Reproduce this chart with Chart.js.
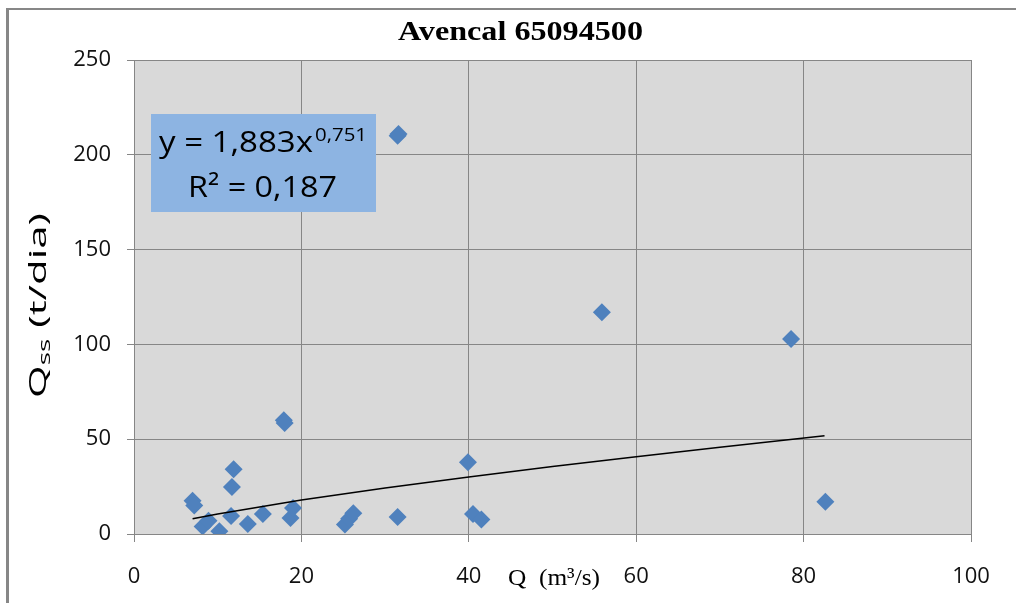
<!DOCTYPE html>
<html>
<head>
<meta charset="utf-8">
<script src="https://cdn.jsdelivr.net/npm/chart.js@4/dist/chart.umd.min.js"></script>
<style>
  html, body { margin: 0; padding: 0; background: #fff; }
  canvas { display: block; }
</style>
</head>
<body>
<canvas id="grafico" width="1016" height="603"></canvas>
<script>
// Dados (Q em m3/s, Qss em t/dia)
const vazao = [7.0, 7.2, 8.2, 8.9, 10.2, 11.6, 11.7, 11.9, 13.6, 15.4, 17.9, 18.0, 18.7, 19.0,
               25.2, 25.7, 26.2, 31.5, 31.5, 31.6, 39.9, 40.5, 41.5, 55.9, 78.5, 82.6];
const qss   = [17.5, 15.0, 4.0, 7.0, 1.5, 9.5, 24.8, 34.2, 5.3, 10.5, 60.0, 58.5, 8.5, 13.7,
               5.0, 8.0, 11.0, 9.0, 210.0, 211.0, 37.8, 10.5, 7.7, 117.0, 102.8, 17.0];

// linha de tendência (potência)
const trendX = [7, 10, 20, 30, 40, 50, 60, 70, 82.5];
const trendY = [8.1, 10.6, 17.9, 24.2, 30.1, 35.6, 40.8, 45.8, 51.8];

const xTicks = [0, 20, 40, 60, 80, 100];
const yTicks = [0, 50, 100, 150, 200, 250];

const titulo = 'Avencal 65094500';
const eqLinha1 = 'y = 1,883x';
const eqExpoente = '0,751';
const eqLinha2 = 'R² = 0,187';

const sans = "'Open Sans', 'DejaVu Sans', sans-serif";
const serif = "'Liberation Serif', 'DejaVu Serif', serif";

// texto esticado na horizontal até a largura w
function textoLargura(ctx, txt, x, y, w){
    const m = ctx.measureText(txt).width;
    ctx.save();
    ctx.translate(x, y);
    ctx.scale(w / m, 1);
    ctx.fillText(txt, 0, 0);
    ctx.restore();
}

const desenhoExtra = {
    id: 'desenhoExtra',
    beforeDraw(chart){
        const ctx = chart.ctx, a = chart.chartArea;
        ctx.save();
        // moldura externa
        ctx.strokeStyle = '#878787';
        ctx.lineWidth = 3;
        ctx.beginPath(); ctx.moveTo(7.5, 603); ctx.lineTo(7.5, 9); ctx.stroke();
        ctx.lineWidth = 2;
        ctx.beginPath(); ctx.moveTo(6, 9); ctx.lineTo(1016, 9); ctx.stroke();
        // fundo da área de plotagem
        ctx.fillStyle = '#d9d9d9';
        ctx.fillRect(a.left, a.top, a.right - a.left, a.bottom - a.top);
        ctx.restore();
    },
    afterDraw(chart){
        const ctx = chart.ctx;
        ctx.save();
        ctx.fillStyle = '#000';
        ctx.textAlign = 'left';
        ctx.textBaseline = 'alphabetic';

        // título
        ctx.font = 'bold 28px ' + serif;
        textoLargura(ctx, titulo, 398, 40, 245);

        // caixa da equação
        ctx.fillStyle = '#8db4e2';
        ctx.fillRect(151, 114, 225, 98);
        ctx.fillStyle = '#000';
        ctx.font = '30px ' + sans;
        textoLargura(ctx, eqLinha1, 159, 152, 154);
        ctx.font = '19px ' + sans;
        textoLargura(ctx, eqExpoente, 315, 141, 52);
        ctx.font = '30px ' + sans;
        textoLargura(ctx, eqLinha2, 188, 197, 149);

        // título do eixo x
        ctx.font = '24px ' + serif;
        textoLargura(ctx, 'Q  (m³/s)', 508, 585, 92);

        // título do eixo y: Q com subscrito ss
        ctx.translate(46, 398);
        ctx.rotate(-Math.PI / 2);
        const fGrande = '24px ' + sans, fSub = '16px ' + sans;
        ctx.font = fGrande; const wQ = ctx.measureText('Q').width;
        ctx.font = fSub; const wS = ctx.measureText('ss').width;
        ctx.font = fGrande; const wR = ctx.measureText(' (t/dia)').width;
        const k = 185 / (wQ + wS + wR);
        ctx.scale(k, 1);
        ctx.font = fGrande; ctx.fillText('Q', 0, 0);
        ctx.font = fSub; ctx.fillText('ss', wQ, 4);
        ctx.font = fGrande; ctx.fillText(' (t/dia)', wQ + wS, 0);
        ctx.restore();
    }
};

const pontos = vazao.map((v, i) => ({x: v, y: qss[i]}));
const tendencia = trendX.map((v, i) => ({x: v, y: trendY[i]}));

new Chart(document.getElementById('grafico'), {
    type: 'scatter',
    data: {
        datasets: [
            { label: 'Tendência', data: tendencia, showLine: true, borderColor: '#000', borderWidth: 1.5,
              pointRadius: 0, fill: false, order: 0 },
            { label: 'Qss', data: pontos, pointStyle: 'rectRot', pointRadius: 9,
              backgroundColor: '#4f81bd', borderColor: '#4f81bd', borderWidth: 0, order: 1 }
        ]
    },
    options: {
        responsive: false,
        animation: false,
        layout: { padding: { left: 0, top: 60, right: 45, bottom: 0 } },
        plugins: { legend: { display: false }, title: { display: false }, tooltip: { enabled: false } },
        scales: {
            x: {
                type: 'linear', min: 0, max: 100,
                afterBuildTicks: s => { s.ticks = xTicks.map(v => ({value: v})); },
                afterFit: s => { s.height = 69; },
                grid: { color: '#868686', lineWidth: 1, tickLength: 8 },
                border: { color: '#868686' },
                ticks: { padding: 22, color: '#111', font: { family: sans, size: 22 } }
            },
            y: {
                type: 'linear', min: 0, max: 250,
                afterBuildTicks: s => { s.ticks = yTicks.map(v => ({value: v})); },
                afterFit: s => { s.width = 134; },
                grid: { color: '#868686', lineWidth: 1, tickLength: 7 },
                border: { color: '#868686' },
                ticks: { padding: 16, color: '#111', font: { family: sans, size: 22 } }
            }
        }
    },
    plugins: [desenhoExtra]
});
</script>
</body>
</html>
